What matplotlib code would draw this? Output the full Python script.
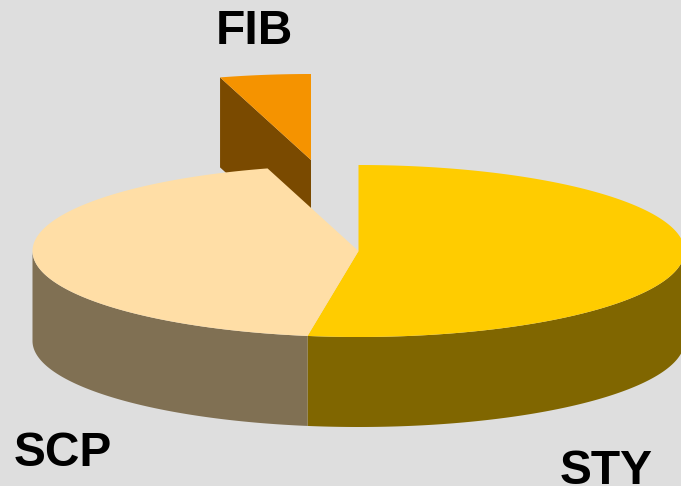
import numpy as np
from matplotlib import pyplot as plt

labels = ['STY', 'SCP', 'FIB']
values = [52.5, 43.0, 4.5]
top_colors = ['#FFCC00', '#FFDEA6', '#F59300']
side_colors = ['#806600', '#807053', '#7A4A00']

cx, cy = 358.5, 251
rx, ry = 326, 86
depth = 90
fib_shift = (-47.5, -91)

plt.rcParams['font.family'] = ['Liberation Sans', 'DejaVu Sans']

fig = plt.figure(figsize=(6.81, 4.86), dpi=100, facecolor='#DEDEDE')
ax = fig.add_axes([0, 0, 1, 1])
ax.set_xlim(0, 681)
ax.set_ylim(486, 0)
ax.axis('off')


def rim(a0, a1, dx=0, dy=0):
	# angles run clockwise from the top of the ellipse
	t = np.radians(np.linspace(a0, a1, 200))
	return cx + dx + rx*np.sin(t), cy + dy - ry*np.cos(t)


edges = np.concatenate([[0], np.cumsum(values)])*360/sum(values)

# exploded slice goes behind the rest
a0, a1 = edges[2], edges[3]
dx, dy = fib_shift
x, y = rim(a0, a1, dx, dy)
ax.fill([cx+dx, x[0], x[0], cx+dx], [cy+dy, y[0], y[0]+depth, cy+dy+depth],
	color=side_colors[2], lw=0)
ax.fill(np.r_[cx+dx, x], np.r_[cy+dy, y], color=top_colors[2], lw=0)

# outer wall, only the front half shows
for i in [0, 1]:
	a0 = max(edges[i], 90)
	a1 = min(edges[i+1], 270)
	x, y = rim(a0, a1)
	ax.fill(np.r_[x, x[::-1]], np.r_[y, y[::-1]+depth], color=side_colors[i], lw=0)

for i in [0, 1]:
	x, y = rim(edges[i], edges[i+1])
	ax.fill(np.r_[cx, x], np.r_[cy, y], color=top_colors[i], lw=0)

ax.text(254, 44, labels[2], fontsize=34.5, fontweight='bold', ha='center', va='baseline', color='black')
ax.text(63, 466, labels[1], fontsize=34.5, fontweight='bold', ha='center', va='baseline', color='black')
ax.text(606, 484, labels[0], fontsize=34.5, fontweight='bold', ha='center', va='baseline', color='black')

plt.savefig('out.png', dpi=100, facecolor=fig.get_facecolor())
